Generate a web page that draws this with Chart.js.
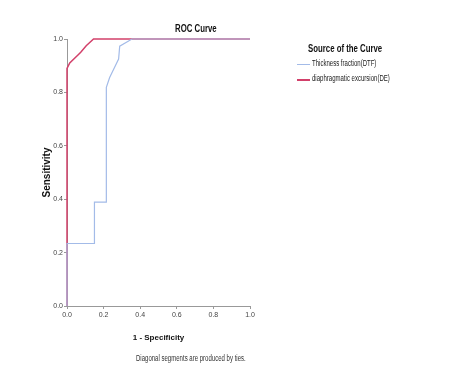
<!DOCTYPE html>
<html><head><meta charset="utf-8">
<script src="https://cdn.jsdelivr.net/npm/chart.js@4"></script>
<style>
html,body{margin:0;padding:0;background:#fff;}
#wrap{position:relative;width:458px;height:384px;}
canvas{position:absolute;left:0;top:0;}
.t{position:absolute;font-family:"Liberation Sans",Arial,sans-serif;color:#111;white-space:nowrap;transform:scaleX(0.71);transform-origin:0 0;}
#title{left:175px;top:22px;font-size:11px;font-weight:bold;}
#legTitle{left:308px;top:42px;font-size:11px;font-weight:bold;}
.lt{font-size:8.5px;color:#222;left:312px;}
.ll{position:absolute;left:297px;width:13px;}
#foot{left:136px;top:353px;font-size:8.5px;color:#333;}
</style></head>
<body><div id="wrap">
<canvas id="c" width="458" height="384"></canvas>
<div class="t" id="title"></div>
<div class="t" id="legTitle"></div>
<div id="legend"></div>
<div class="t" id="foot"></div>
</div>
<script>
const chartTitle = "ROC Curve";
const legendTitle = "Source of the Curve";
const xTitle = "1 - Specificity";
const yTitle = "Sensitivity";
const footnote = "Diagonal segments are produced by ties.";
const seriesNames = ["Thickness fraction(DTF)", "diaphragmatic excursion(DE)"];
const dtfX = [0, 0, 0.15, 0.15, 0.215, 0.215, 0.233, 0.282, 0.288, 0.355, 1.0];
const dtfY = [0, 0.234, 0.234, 0.389, 0.389, 0.819, 0.856, 0.925, 0.973, 1.0, 1.0];
const deX = [0, 0, 0.015, 0.06, 0.075, 0.105, 0.145, 1.0];
const deY = [0, 0.89, 0.91, 0.94, 0.95, 0.975, 1.0, 1.0];
const tickValues = [0, 0.2, 0.4, 0.6, 0.8, 1.0];
const colors = ["#a3bbe8", "#d2406a"];
const widths = [1.2, 1.5];

document.getElementById('title').textContent = chartTitle;
document.getElementById('legTitle').textContent = legendTitle;
document.getElementById('foot').textContent = footnote;
const leg = document.getElementById('legend');
seriesNames.forEach((n,i)=>{
  const y = 58+i*15;
  const l=document.createElement('div'); l.className='ll';
  l.style.top=(y+6)+'px'; l.style.borderTop=(i==0?1:2)+'px solid '+colors[i];
  leg.appendChild(l);
  const d=document.createElement('div'); d.className='t lt'; d.style.top=y+'px';
  d.textContent=n; leg.appendChild(d);
});

const pts=(xs,ys)=>xs.map((x,i)=>({x:x,y:ys[i]}));
const fam="'Liberation Sans',Arial,sans-serif";
const fontTick={family:fam,size:7};
new Chart(document.getElementById('c'),{
  type:'scatter',
  data:{datasets:[
    {label:seriesNames[0],data:pts(dtfX,dtfY),showLine:true,borderColor:colors[0],borderWidth:widths[0],pointRadius:0,tension:0,clip:false},
    {label:seriesNames[1],data:pts(deX,deY),showLine:true,borderColor:colors[1],borderWidth:widths[1],pointRadius:0,tension:0,clip:false}
  ]},
  options:{
    responsive:false,animation:false,
    layout:{padding:{left:0,top:39,right:208,bottom:38}},
    plugins:{legend:{display:false},title:{display:false},tooltip:{enabled:false}},
    scales:{
      x:{type:'linear',min:0,max:1,
        afterBuildTicks:s=>{s.ticks=tickValues.map(v=>({value:v}));},
        afterFit:s=>{s.height=40;},
        ticks:{font:fontTick,color:'#444',padding:2,maxRotation:0,callback:v=>Number(v).toFixed(1)},
        grid:{drawOnChartArea:false,drawTicks:true,tickLength:3,color:'#999'},
        border:{color:'#999',width:1},
        title:{display:true,text:xTitle,font:{family:fam,size:8,weight:'bold'},color:'#111',padding:{top:0,bottom:3}}
      },
      y:{type:'linear',min:0,max:1,
        afterBuildTicks:s=>{s.ticks=tickValues.map(v=>({value:v}));},
        afterFit:s=>{s.width=67;},
        ticks:{font:fontTick,color:'#444',padding:1,callback:v=>Number(v).toFixed(1)},
        grid:{drawOnChartArea:false,drawTicks:true,tickLength:3,color:'#999'},
        border:{color:'#999',width:1},
        title:{display:true,text:yTitle,font:{family:fam,size:10,weight:'bold'},color:'#111',padding:{top:41,bottom:0}}
      }
    }
  }
});
</script></body></html>
